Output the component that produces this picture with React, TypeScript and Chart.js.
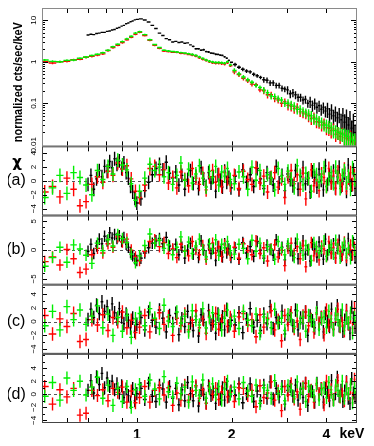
import React, { useEffect, useRef } from "react";
import { Chart, registerables } from "chart.js";

Chart.register(...registerables);

// ---------- energy grids (keV) ----------
const blackEnergy = [
  0.7, 0.715, 0.73, 0.745, 0.76, 0.775, 0.79, 0.805, 0.82, 0.835, 0.85, 0.865, 0.88, 0.895, 0.91, 0.925, 0.94, 0.955, 0.97, 0.985, 1.0,
  1.03, 1.06, 1.09, 1.12, 1.15, 1.18, 1.21, 1.24, 1.27, 1.3, 1.33, 1.36, 1.39, 1.42, 1.45, 1.48, 1.51, 1.54, 1.57, 1.6, 1.63, 1.66, 1.69, 1.72, 1.75, 1.78, 1.81, 1.84, 1.87, 1.9, 1.93, 1.96, 1.99,
  2.05, 2.11, 2.17, 2.23, 2.29, 2.35, 2.41, 2.47, 2.53, 2.59, 2.65, 2.71, 2.77, 2.83, 2.89, 2.95, 3.01, 3.07, 3.13, 3.19, 3.25, 3.31, 3.37, 3.43, 3.49, 3.55, 3.61, 3.67, 3.73, 3.79, 3.85, 3.91, 3.97, 4.03, 4.09, 4.15, 4.21, 4.27, 4.33, 4.39, 4.45, 4.51, 4.57, 4.63, 4.69, 4.75, 4.81, 4.87, 4.93, 4.99,
];
const redGreenEnergy = [
  0.51, 0.54, 0.57, 0.6, 0.63, 0.66, 0.69, 0.72, 0.75, 0.78, 0.81, 0.84, 0.87, 0.9, 0.93, 0.96, 0.99,
  1.02, 1.06, 1.1, 1.14, 1.18, 1.22, 1.26, 1.3, 1.34, 1.38, 1.42, 1.46, 1.5, 1.54, 1.58, 1.62, 1.66, 1.7, 1.74, 1.78, 1.82, 1.86, 1.9, 1.94, 1.98,
  2.04, 2.11, 2.18, 2.25, 2.32, 2.39, 2.46, 2.53, 2.6, 2.67, 2.74, 2.81, 2.88, 2.95, 3.02, 3.09, 3.16, 3.23, 3.3, 3.37, 3.44, 3.51, 3.58, 3.65, 3.72, 3.79, 3.86, 3.93, 4.0, 4.07, 4.14, 4.21, 4.28, 4.35, 4.42, 4.49, 4.56, 4.63, 4.7, 4.77, 4.84, 4.91, 4.98,
];

// ---------- spectra (normalized cts/sec/keV) ----------
const blackFlux = [
  4.4, 4.6, 4.5, 4.8, 4.9, 5.1, 5.1, 5.4, 5.5, 5.8, 6.0, 6.4, 6.7, 7.2, 7.5, 8.2, 8.6, 9.2, 9.6, 10.2, 10.5,
  10.8, 10.1, 9.1, 7.5, 6.3, 4.9, 4.3, 3.6, 3.4, 3.0, 3.1, 2.9, 3.0, 2.8, 2.85, 2.55, 2.35, 2.05, 2.05, 1.9, 1.95, 1.75, 1.72, 1.62, 1.6, 1.52, 1.5, 1.45, 1.42, 1.32, 1.22, 1.08, 0.97,
  0.86, 0.74, 0.66, 0.6, 0.57, 0.5, 0.46, 0.42, 0.37, 0.36, 0.31, 0.31, 0.27, 0.27, 0.23, 0.22, 0.21, 0.17, 0.18, 0.16, 0.14, 0.14, 0.12, 0.125, 0.1, 0.11, 0.09, 0.1, 0.08, 0.088, 0.072, 0.08, 0.065, 0.074, 0.055, 0.068, 0.05, 0.06, 0.045, 0.055, 0.04, 0.05, 0.035, 0.046, 0.03, 0.042, 0.025, 0.036, 0.02, 0.03,
];
const redFlux = [
  1.0, 0.93, 1.0, 1.02, 1.12, 1.15, 1.28, 1.35, 1.45, 1.55, 1.85, 2.2, 2.5, 2.9, 3.4, 3.9, 4.6,
  5.1, 4.3, 3.3, 2.5, 2.1, 1.8, 1.75, 1.7, 1.68, 1.6, 1.58, 1.5, 1.45, 1.38, 1.25, 1.15, 1.08, 1.0, 0.95, 0.92, 0.93, 0.9, 0.88, 0.95, 0.8,
  0.57, 0.49, 0.4, 0.35, 0.29, 0.28, 0.21, 0.2, 0.16, 0.16, 0.13, 0.12, 0.1, 0.11, 0.09, 0.085, 0.075, 0.08, 0.062, 0.058, 0.055, 0.05, 0.043, 0.046, 0.036, 0.035, 0.03, 0.033, 0.026, 0.025, 0.022, 0.024, 0.018, 0.02, 0.016, 0.019, 0.015, 0.014, 0.013, 0.015, 0.011, 0.012, 0.0105,
];
const greenFlux = [
  1.1, 1.02, 1.0, 1.08, 1.1, 1.22, 1.3, 1.42, 1.52, 1.65, 1.9, 2.3, 2.65, 3.05, 3.55, 4.1, 4.9,
  5.3, 4.5, 3.4, 2.6, 2.2, 1.9, 1.82, 1.76, 1.72, 1.66, 1.62, 1.56, 1.5, 1.42, 1.3, 1.2, 1.1, 1.03, 0.99, 0.96, 0.96, 0.95, 0.92, 1.0, 0.84,
  0.62, 0.51, 0.43, 0.37, 0.32, 0.27, 0.24, 0.21, 0.18, 0.15, 0.145, 0.13, 0.12, 0.1, 0.1, 0.092, 0.085, 0.072, 0.072, 0.064, 0.06, 0.055, 0.05, 0.043, 0.042, 0.038, 0.035, 0.03, 0.03, 0.028, 0.026, 0.022, 0.022, 0.02, 0.019, 0.018, 0.017, 0.016, 0.016, 0.014, 0.013, 0.013, 0.012,
];
// relative 1-sigma errors of the spectra, by upper band edge (keV)
const blackRelErr = [[1.5, 0.03], [2, 0.05], [2.5, 0.1], [3, 0.16], [3.5, 0.22], [4, 0.3], [4.5, 0.4], [99, 0.55]];
const redGreenRelErr = [[1, 0.06], [1.5, 0.05], [2, 0.07], [2.5, 0.12], [3, 0.18], [3.5, 0.25], [4, 0.3], [4.5, 0.35], [99, 0.45]];

// ---------- residuals (chi) ----------
const blackResA = [
  -0.5, 0.8, -1.2, 0.3, 1.5, 0.6, 2.1, 1.4, 2.8, 1.9, 3.2, 2.4, 2.9, 1.8, 2.6, 1.2, 0.4, -0.8, -1.6, -2.5, -3.2,
  -2.6, -1.4, -0.2, 0.9, 1.8, 2.4, 1.6, 2.7, 1.1, 0.4, 1.3, -0.6, 0.8, -1.2, 0.2, 1.5, -0.4, 0.7, -1.1, 1.9, 0.3, -0.8, 1.2, -0.3, 0.6, -1.5, 0.9, 0.1, -0.9, 1.4, -0.2, 0.5, -1.0,
  0.7, -1.3, 1.6, -0.2, 0.9, -0.8, 1.8, 0.3, -1.1, 1.2, 0.4, -0.6, 2.1, -0.3, 0.8, -1.4, 1.0, 0.2, -0.7, 1.5, -1.2, 0.6, 1.9, -0.4, 0.3, -1.6, 1.3, 0.5, -0.9, 1.7, 0.1, -1.3, 2.2, -0.5, 0.8, -0.2, 1.4, -1.0, 0.6, 2.0, -0.8, 0.4, 1.1, -1.5, 2.3, 0.2, -0.6, 1.6, -1.1, 0.9,
];
const redResA = [
  -1.6, -0.8, -2.3, 0.4, -1.2, -3.6, -3.0, -0.5, 0.6, -0.2, 1.4, 0.8, 2.6, 1.7, 2.2, 0.3, -1.5,
  -2.4, -0.6, 1.8, 2.1, 0.9, 1.6, -0.3, 0.5, -1.0, 1.3, 0.2, -0.7, 1.8, 0.4, -0.5, 1.1, -1.3, 0.6, 1.5, -0.2, 0.9, -0.8, 1.2, 0.3, -0.6,
  0.8, -1.1, 1.4, 0.2, -0.5, 1.9, -0.3, 0.7, -1.6, 0.5, 1.2, -0.9, 0.3, -2.4, 0.6, 1.5, -0.4, 0.9, -1.2, 1.1, -2.6, 0.4, 1.6, -0.7, 0.2, -1.4, 1.0, 0.5, -0.8, 1.8, -0.3, 0.7, -1.1, 1.3, 0.1, -0.6, 1.7, -1.0, 0.4, 1.2, -0.5, 0.8, -0.2,
];
const greenResA = [
  -2.4, -1.0, 0.8, -1.8, 1.2, 0.5, -0.6, -2.0, 1.5, 0.2, 2.1, 1.0, 3.0, 2.3, 1.6, -0.4, -2.8,
  -1.5, 0.4, 2.4, 1.5, 2.0, 0.6, 1.2, -0.5, 0.8, 2.6, 0.1, 1.7, -0.3, 1.0, 2.2, 0.4, -0.9, 1.4, 0.5, 2.1, -0.6, 1.3, 0.7, 1.8, 0.2,
  -0.4, 1.3, 0.6, -1.2, 2.0, 0.1, 1.5, -0.7, 0.9, 0.4, -1.3, 1.8, 0.7, -0.5, 1.4, 0.3, -1.0, 2.2, 0.8, -0.6, 1.1, 0.4, -1.5, 1.6, 0.9, -0.2, 0.6, 1.9, -0.8, 0.3, 1.2, -0.4, 2.0, 0.5, -1.1, 0.8, 1.5, -0.3, 0.7, -1.2, 1.9, 0.2, -0.6,
];
const blackResB = [
  -0.2, 1.0, -0.6, 0.7, 1.9, 1.1, 2.4, 1.6, 3.0, 2.1, 2.7, 2.0, 2.5, 1.5, 2.2, 1.0, 0.5, -0.4, -1.0, -1.5, -1.8,
  -1.4, -0.5, 0.4, 1.2, 1.6, 2.0, 1.1, 2.2, 0.7, 0.1, 1.0, -0.8, 0.5, -1.4, 0.0, 1.2, -0.7, 0.4, -1.3, 1.6, 0.0, -1.1, 0.9, -0.6, 0.3, -1.8, 0.6, -0.2, -1.2, 1.1, -0.5, 0.2, -1.3,
  0.4, -1.6, 1.3, -0.5, 0.6, -1.1, 1.5, 0.0, -1.4, 0.9, 0.1, -0.9, 1.8, -0.6, 0.5, -1.7, 0.7, -0.1, -1.0, 1.2, -1.5, 0.3, 1.6, -0.7, 0.0, -1.9, 1.0, 0.2, -1.2, 1.4, -0.2, -1.6, 1.9, -0.8, 0.5, -0.5, 1.1, -1.3, 0.3, 1.7, -1.1, 0.1, 0.8, -1.8, 2.0, -0.1, -0.9, 1.3, -1.4, 0.6,
];
const redResB = [
  -2.0, -1.2, -2.6, 0.1, -1.5, -3.9, -3.3, -0.8, 0.3, -0.5, 1.1, 0.5, 2.3, 1.4, 1.9, 0.0, -1.2,
  -1.8, -0.2, 1.5, 1.8, 0.6, 1.3, -0.6, 0.2, -1.3, 1.0, -0.1, -1.0, 1.5, 0.1, -0.8, 0.8, -1.6, 0.3, 1.2, -0.5, 0.6, -1.1, 0.9, 0.0, -0.9,
  0.5, -1.4, 1.1, -0.1, -0.8, 1.6, -0.6, 0.4, -1.9, 0.2, 0.9, -1.2, 0.0, -2.7, 0.3, 1.2, -0.7, 0.6, -1.5, 0.8, -2.9, 0.1, 1.3, -1.0, -0.1, -1.7, 0.7, 0.2, -1.1, 1.5, -0.6, 0.4, -1.4, 1.0, -0.2, -0.9, 1.4, -1.3, 0.1, 0.9, -0.8, 0.5, -0.5,
];
const greenResB = [
  -2.8, -1.3, 0.5, -2.1, 0.9, 0.2, -0.9, -2.3, 1.2, -0.1, 1.8, 0.7, 2.7, 2.0, 1.3, -0.7, -2.2,
  -1.0, 0.8, 2.8, 1.2, 1.7, 0.3, 0.9, -0.8, 0.5, 2.3, -0.2, 1.4, -0.6, 0.7, 1.9, 0.1, -1.2, 1.1, 0.2, 1.8, -0.9, 1.0, 0.4, 1.5, -0.1,
  -0.7, 1.0, 0.3, -1.5, 1.7, -0.2, 1.2, -1.0, 0.6, 0.1, -1.6, 1.5, 0.4, -0.8, 1.1, 0.0, -1.3, 1.9, 0.5, -0.9, 0.8, 0.1, -1.8, 1.3, 0.6, -0.5, 0.3, 1.6, -1.1, 0.0, 0.9, -0.7, 1.7, 0.2, -1.4, 0.5, 1.2, -0.6, 0.4, -1.5, 1.6, -0.1, -0.9,
];
const blackResC = [
  0.3, 1.8, 0.6, 2.4, 1.2, 2.9, 1.5, 2.2, 0.8, 2.6, 1.3, 0.4, 1.9, 0.7, -0.3, 1.1, 0.2, -0.9, 0.5, -1.4, -0.4,
  0.6, -1.2, 1.4, 0.2, -0.8, 1.7, 0.5, -1.5, 0.9, -0.3, 1.2, -1.9, 0.4, -0.7, 1.5, -0.2, -1.3, 0.8, -2.1, 1.0, 0.3, -1.0, 1.6, -0.5, 0.1, -1.7, 1.1, -0.4, 0.7, -1.2, 1.8, -0.6, 0.2,
  -0.5, 1.3, -1.6, 0.4, 1.9, -0.8, 0.2, -1.3, 1.1, -0.3, 2.2, -1.0, 0.6, -0.1, 1.5, -1.8, 0.3, 0.9, -0.6, 1.7, -1.2, 0.5, -0.2, 1.4, -2.0, 0.8, 0.1, -0.9, 2.0, -0.4, 0.6, -1.5, 1.2, 0.0, -0.7, 1.8, -1.1, 0.4, 2.3, -0.6, 0.9, -1.4, 0.2, 1.6, -0.3, -1.7, 2.1, 0.5, -0.8, 1.9,
];
const redResC = [
  0.9, -1.8, 0.4, -0.7, 1.2, -2.9, -2.6, 0.3, -0.5, 1.0, -1.3, 0.6, 0.0, 1.4, -0.9, 0.2, -1.6,
  -0.8, 0.9, -1.5, 0.3, 1.3, -0.4, 0.7, -2.0, 0.5, -0.6, 1.1, -1.2, 0.2, 1.6, -0.9, 0.4, -1.7, 0.8, -0.3, 1.2, -1.1, 0.1, 1.5, -0.7, 0.6,
  -1.4, 0.7, 1.2, -0.5, 0.3, -2.2, 1.0, -0.8, 0.5, 1.6, -1.2, 0.2, -2.8, 0.9, -0.4, 1.3, -1.0, 0.1, -2.6, 0.8, 1.4, -0.6, 0.3, -1.5, 1.1, -0.2, 0.6, -1.9, 1.7, -0.5, 0.4, -1.1, 0.9, 1.8, -0.7, 0.2, -1.3, 1.5, -0.3, 0.7, -1.0, 2.0, -0.4,
];
const greenResC = [
  -0.6, 1.5, -1.2, 2.2, 0.3, 1.7, -0.4, 0.8, 2.3, -0.9, 1.1, -2.0, 0.6, -1.4, 0.9, -2.3, 0.4,
  1.2, -0.6, 1.9, 0.5, -1.0, 2.4, 0.1, -0.7, 1.4, -0.2, 0.8, -1.5, 1.6, 0.3, -0.5, 1.9, -0.9, 0.6, 1.3, -0.4, 0.9, -1.2, 0.5, 1.7, -0.3,
  0.8, -1.0, 1.5, 0.2, -0.6, 1.1, -1.7, 0.7, 0.3, -0.9, 1.8, -0.2, 0.5, -1.3, 1.0, 0.4, -0.7, 1.6, -0.1, 0.6, -1.4, 0.9, 0.2, -0.5, 1.3, -1.1, 0.4, 0.7, -0.8, 1.5, 0.0, -1.2, 1.1, 0.3, -0.6, 1.7, -0.9, 0.5, -0.2, 1.2, -1.6, 0.6, 0.1,
];
const blackResD = [
  0.6, 2.1, 0.2, 2.7, 1.5, 3.2, 1.0, 2.5, 1.2, 2.0, 0.7, 1.6, 0.2, 1.3, -0.5, 0.8, -0.2, -1.2, 0.9, -1.0, 0.1,
  0.9, -0.8, 1.7, -0.3, -1.1, 1.4, 0.8, -1.2, 1.2, -0.6, 0.9, -1.6, 0.7, -1.0, 1.8, 0.1, -1.0, 1.1, -1.8, 0.6, 0.0, -1.3, 1.3, -0.2, 0.4, -1.4, 0.8, -0.7, 1.0, -0.9, 1.5, -0.3, 0.5,
  -0.2, 1.6, -1.3, 0.1, 1.6, -1.1, 0.5, -1.0, 1.4, -0.6, 1.9, -0.7, 0.9, -0.4, 1.2, -1.5, 0.6, 1.2, -0.3, 1.4, -0.9, 0.8, -0.5, 1.7, -1.7, 0.5, 0.4, -1.2, 1.7, -0.1, 0.9, -1.2, 0.9, 0.3, -1.0, 2.1, -0.8, 0.1, 2.6, -0.3, 0.6, -1.1, 0.5, 1.9, -0.6, -1.4, 2.4, 0.2, -0.5, 2.2,
];
const redResD = [
  1.2, -1.5, 0.7, -0.4, 0.9, -3.2, -2.9, 0.6, -0.2, 0.7, -1.0, 0.9, 0.3, 1.1, -1.2, 0.5, -1.3,
  -0.5, 1.2, -1.2, 0.6, 1.0, -0.1, 1.0, -1.7, 0.2, -0.9, 1.4, -0.9, 0.5, 1.3, -0.6, 0.7, -1.4, 1.1, 0.0, 0.9, -0.8, 0.4, 1.8, -0.4, 0.3,
  -1.1, 1.0, 0.9, -0.2, 0.6, -1.9, 1.3, -0.5, 0.2, 1.9, -0.9, 0.5, -2.5, 1.2, -0.1, 1.6, -0.7, 0.4, -2.3, 1.1, 1.7, -0.3, 0.6, -1.2, 1.4, 0.1, 0.9, -1.6, 2.0, -0.2, 0.7, -0.8, 1.2, 2.1, -0.4, 0.5, -1.0, 1.8, 0.0, 1.0, -0.7, 2.3, -0.1,
];
const greenResD = [
  -0.3, 1.8, -0.9, 2.5, 0.6, 2.0, -0.1, 1.1, 2.6, -0.6, 1.4, -1.7, 0.9, -1.1, 1.2, -2.0, 0.7,
  1.5, -0.3, 2.2, 0.8, -0.7, 2.7, 0.4, -0.4, 1.7, 0.1, 1.1, -1.2, 1.9, 0.6, -0.2, 2.2, -0.6, 0.9, 1.6, -0.1, 1.2, -0.9, 0.8, 2.0, 0.0,
  1.1, -0.7, 1.8, 0.5, -0.3, 1.4, -1.4, 1.0, 0.6, -0.6, 2.1, 0.1, 0.8, -1.0, 1.3, 0.7, -0.4, 1.9, 0.2, 0.9, -1.1, 1.2, 0.5, -0.2, 1.6, -0.8, 0.7, 1.0, -0.5, 1.8, 0.3, -0.9, 1.4, 0.6, -0.3, 2.0, -0.6, 0.8, 0.1, 1.5, -1.3, 0.9, 0.4,
];
const residualSigma = 1;

// ---------- axes ----------
const xTickValues = [1, 2, 4];
const xTickLabels = ["1", "2", "4"];
const xUnitLabel = "keV";
const xFrameTicks = [0.6, 0.7, 0.8, 0.9, 1, 2, 3, 4];
const fluxTickValues = [0.01, 0.1, 1, 10];
const fluxTickLabels = ["0.01", "0.1", "1", "10"];
const fluxTitle = "normalized cts/sec/keV";
const chiLabel = "χ";
const panelIds = ["yA", "yB", "yC", "yD"];
const panelLetters = ["(a)", "(b)", "(c)", "(d)"];
const panelRanges = [[-5, 5], [-6, 6], [-4.7, 5.4], [-4.4, 6.2]];
const panelTickValues = [[-4, -2, 0, 2, 4], [-5, 0, 5], [-4, -2, 0, 2, 4], [-4, -2, 0, 2, 4]];
const blackRes = [blackResA, blackResB, blackResC, blackResD];
const redRes = [redResA, redResB, redResC, redResD];
const greenRes = [greenResA, greenResB, greenResC, greenResD];

const COLORS = { black: "#000000", red: "#ff0000", green: "#00ee00" };
const FONT = '"Liberation Sans", Arial, Helvetica, sans-serif';

function binEdges(E: number[], i: number): [number, number] {
  const lo = i > 0 ? (E[i - 1] + E[i]) / 2 : E[i] - (E[i + 1] - E[i]) / 2;
  const hi = i < E.length - 1 ? (E[i] + E[i + 1]) / 2 : E[i] + (E[i] - E[i - 1]) / 2;
  return [lo, hi];
}
function relErr(bands: number[][], e: number) {
  for (const b of bands) if (e < b[0]) return b[1];
  return bands[bands.length - 1][1];
}
function spectrumPoints(E: number[], F: number[], bands: number[][]) {
  return E.map((e, i) => {
    const [lo, hi] = binEdges(E, i);
    const r = relErr(bands, e);
    return { x: e, y: F[i], xlo: lo, xhi: hi, ylo: Math.max(F[i] * (1 - r), 1e-4), yhi: F[i] * (1 + r) };
  });
}
function residualPoints(E: number[], R: number[]) {
  return E.map((e, i) => {
    const [lo, hi] = binEdges(E, i);
    return { x: e, y: R[i], xlo: lo, xhi: hi, ylo: R[i] - residualSigma, yhi: R[i] + residualSigma };
  });
}

function makeDataset(label: string, yAxisID: string, color: string, data: any[]) {
  return { type: "scatter", label, yAxisID, data, borderColor: color, backgroundColor: color, pointRadius: 0, pointHoverRadius: 0, showLine: false };
}

const errorBarPlugin = {
  id: "errorBars",
  beforeDatasetsDraw(chart: any) {
    const { ctx, chartArea: a, scales } = chart;
    ctx.save();
    ctx.strokeStyle = "#555";
    ctx.lineWidth = 1;
    ctx.setLineDash([3, 3]);
    for (const id of panelIds) {
      const y = Math.round(scales[id].getPixelForValue(0)) + 0.5;
      ctx.beginPath();
      ctx.moveTo(a.left, y);
      ctx.lineTo(a.right, y);
      ctx.stroke();
    }
    ctx.restore();
  },
  afterDatasetsDraw(chart: any) {
    const { ctx, chartArea: a, scales } = chart;
    const xs = scales.x;
    chart.data.datasets.forEach((ds: any) => {
      const ys = scales[ds.yAxisID];
      ctx.save();
      ctx.beginPath();
      ctx.rect(a.left, ys.top, a.right - a.left, ys.bottom - ys.top);
      ctx.clip();
      ctx.strokeStyle = ds.borderColor;
      ctx.lineWidth = 1.4;
      ctx.beginPath();
      for (const p of ds.data) {
        const x0 = xs.getPixelForValue(p.xlo);
        const x1 = xs.getPixelForValue(p.xhi);
        const xc = xs.getPixelForValue(p.x);
        const y = ys.getPixelForValue(p.y);
        ctx.moveTo(x0, y);
        ctx.lineTo(x1, y);
        ctx.moveTo(xc, ys.getPixelForValue(p.ylo));
        ctx.lineTo(xc, ys.getPixelForValue(p.yhi));
      }
      ctx.stroke();
      ctx.restore();
    });
  },
  afterDraw(chart: any) {
    const { ctx, chartArea: a, scales } = chart;
    const xs = scales.x;
    const allPanels = ["yTop", ...panelIds];
    ctx.save();
    allPanels.forEach((id, k) => {
      const s = scales[id];
      const top = s.top;
      const bot = s.bottom;
      ctx.strokeStyle = "#000";
      ctx.lineWidth = 1;
      ctx.beginPath();
      for (const v of xFrameTicks) {
        const px = Math.round(xs.getPixelForValue(v)) + 0.5;
        ctx.moveTo(px, top);
        ctx.lineTo(px, top + 5);
        ctx.moveTo(px, bot);
        ctx.lineTo(px, bot - 5);
      }
      const yTick = (v: number, len: number) => {
        const py = Math.round(s.getPixelForValue(v)) + 0.5;
        if (py < top + 1 || py > bot - 1) return;
        ctx.moveTo(a.left, py);
        ctx.lineTo(a.left + len, py);
        ctx.moveTo(a.right, py);
        ctx.lineTo(a.right - len, py);
      };
      if (k === 0) {
        for (const v of fluxTickValues) {
          yTick(v, 6);
          for (let m = 2; m <= 9; m++) yTick(v * m, 3);
        }
      } else {
        const ticks = panelTickValues[k - 1];
        const [mn, mx] = panelRanges[k - 1];
        for (let v = Math.ceil(mn); v <= Math.floor(mx); v++) yTick(v, ticks.includes(v) ? 5 : 3);
      }
      ctx.stroke();
      ctx.strokeStyle = k === 0 ? "#8a8a8a" : "#444";
      ctx.strokeRect(a.left + 0.5, top + 0.5, a.right - a.left - 1, bot - top - 1);

      // rotated tick labels
      ctx.fillStyle = "#000";
      ctx.font = `8px ${FONT}`;
      ctx.textAlign = "center";
      ctx.textBaseline = "middle";
      const vals = k === 0 ? fluxTickValues : panelTickValues[k - 1];
      vals.forEach((v, j) => {
        const label = k === 0 ? fluxTickLabels[j] : String(v).replace("-", "\u2212");
        const py = s.getPixelForValue(v);
        ctx.save();
        ctx.translate(a.left - 8, py);
        ctx.rotate(-Math.PI / 2);
        ctx.fillText(label, 0, 0);
        ctx.restore();
      });

      if (k > 0) {
        ctx.font = `16px ${FONT}`;
        ctx.fillText(panelLetters[k - 1], 8, s.getPixelForValue(0));
      }
    });

    // chi symbol
    const sa = scales.yA;
    ctx.font = `bold 15px "DejaVu Sans", sans-serif`;
    ctx.textAlign = "center";
    ctx.textBaseline = "middle";
    ctx.fillText(chiLabel, 9, sa.top + 17);

    // y title
    const st = scales.yTop;
    ctx.font = `bold 13px ${FONT}`;
    const w = ctx.measureText(fluxTitle).width;
    const target = 120;
    ctx.save();
    ctx.translate(10, (st.top + st.bottom) / 2 + 5);
    ctx.rotate(-Math.PI / 2);
    ctx.scale(target / w, 1);
    ctx.fillText(fluxTitle, 0, 0);
    ctx.restore();

    // unit label on x axis
    ctx.font = `bold 14px ${FONT}`;
    ctx.textAlign = "center";
    ctx.textBaseline = "top";
    ctx.fillText(xUnitLabel, a.right - 5, xs.top + 4);
    ctx.restore();
  },
};

function yScale(extra: any) {
  return {
    display: true,
    position: "left",
    stack: "panels",
    grid: { display: false },
    border: { display: false },
    ticks: { display: false },
    afterFit: (s: any) => {
      s.width = 34;
    },
    ...extra,
  };
}

export default function App() {
  const ref = useRef<HTMLCanvasElement>(null);
  useEffect(() => {
    const datasets: any[] = [
      makeDataset("black", "yTop", COLORS.black, spectrumPoints(blackEnergy, blackFlux, blackRelErr)),
      makeDataset("red", "yTop", COLORS.red, spectrumPoints(redGreenEnergy, redFlux, redGreenRelErr)),
      makeDataset("green", "yTop", COLORS.green, spectrumPoints(redGreenEnergy, greenFlux, redGreenRelErr)),
    ];
    panelIds.forEach((id, k) => {
      datasets.push(makeDataset("black " + id, id, COLORS.black, residualPoints(blackEnergy, blackRes[k])));
      datasets.push(makeDataset("red " + id, id, COLORS.red, residualPoints(redGreenEnergy, redRes[k])));
      datasets.push(makeDataset("green " + id, id, COLORS.green, residualPoints(redGreenEnergy, greenRes[k])));
    });
    const scales: any = {
      x: {
        type: "logarithmic",
        position: "bottom",
        min: 0.5,
        max: 5,
        grid: { display: false, drawTicks: false },
        border: { display: false },
        ticks: {
          autoSkip: false,
          maxRotation: 0,
          minRotation: 0,
          padding: 4,
          color: "#000",
          font: { family: FONT, size: 14, weight: "bold" },
          callback: (v: any) => {
            const i = xTickValues.indexOf(Number(v));
            return i >= 0 ? xTickLabels[i] : "";
          },
        },
        afterBuildTicks: (s: any) => {
          s.ticks = xTickValues.map((v) => ({ value: v }));
        },
        afterFit: (s: any) => {
          s.height = 15;
        },
      },
      yTop: yScale({
        type: "logarithmic",
        min: 0.0092,
        max: 19.7,
        stackWeight: 2,
        weight: 5,
        afterBuildTicks: (s: any) => {
          s.ticks = fluxTickValues.map((v) => ({ value: v }));
        },
      }),
    };
    panelIds.forEach((id, k) => {
      scales[id] = yScale({
        type: "linear",
        min: panelRanges[k][0],
        max: panelRanges[k][1],
        stackWeight: 1,
        weight: 4 - k,
        afterBuildTicks: (s: any) => {
          s.ticks = panelTickValues[k].map((v) => ({ value: v }));
        },
      });
    });
    const chart = new Chart(ref.current as HTMLCanvasElement, {
      type: "scatter",
      data: { datasets },
      options: {
        responsive: false,
        animation: false,
        devicePixelRatio: 1,
        layout: { padding: { top: 0, right: 9, bottom: 0, left: 0 } },
        plugins: { legend: { display: false }, tooltip: { enabled: false }, title: { display: false } },
        events: [],
        scales,
      },
      plugins: [errorBarPlugin],
    } as any);
    return () => chart.destroy();
  }, []);
  return (
    <canvas
      ref={ref}
      width={358}
      height={430}
      style={{ display: "block", width: 358, height: 430, background: "#fff" }}
    />
  );
}
